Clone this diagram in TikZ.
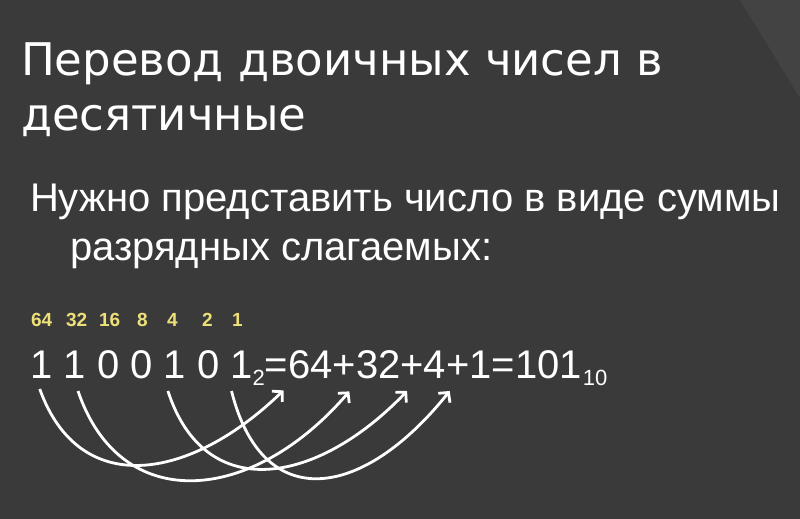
\documentclass[tikz,border=0pt]{standalone}
\usepackage{fontspec}
\setmainfont{Liberation Sans}
\newfontfamily\headfont{DejaVu Sans}
\usetikzlibrary{arrows.meta}
\definecolor{slidebg}{RGB}{58,58,58}
\definecolor{slideband}{RGB}{67,67,67}
\definecolor{weightyellow}{RGB}{238,224,120}
\begin{document}
\begin{tikzpicture}[x=1pt,y=-1pt,
  every node/.style={inner sep=0pt,outer sep=0pt,text=white},
  title/.style={anchor=base west,font=\headfont\fontsize{45}{55}\selectfont},
  body/.style={anchor=base west,font=\fontsize{40}{48}\selectfont},
  weight/.style={anchor=base west,text=weightyellow,font=\fontsize{19}{21}\selectfont\bfseries},
  digit/.style={anchor=base west,font=\fontsize{40}{48}\selectfont},
  subidx/.style={anchor=base west,font=\fontsize{22}{24}\selectfont},
  carry/.style={draw=white,line width=2.8pt,-{Straight Barb[length=7pt,width=15pt]}}]
\fill[slidebg] (0,0) rectangle (800,519) ;
\fill[slideband] (740,0) -- (800,0) -- (800,98) -- cycle ;
\useasboundingbox (0,0) rectangle (800,519) ;
\node[title] (head1) at (21,75) {Перевод двоичных чисел в} ;
\node[title] (head2) at (21,130) {десятичные} ;
\node[body] (line1) at (30,211) {Нужно представить число в виде суммы} ;
\node[body] (line2) at (70,260) {разрядных слагаемых:} ;
\foreach \w/\x in {64/31,32/66,16/99,8/137,4/167,2/202,1/232}
  \node[weight] (w\w) at (\x,326) {\w} ;
\foreach \b [count=\i] in {1,1,0,0,1,0,1}
  \node[digit] (d\i) at ({30.6+33.3*(\i-1)},378) {\b} ;
\node[subidx] (s2) at ([yshift=-7pt]d7.base east) {2} ;
\node[digit] (e1) at (s2.base east |- d7.base) {=} ;
\node[digit] (t64) at (e1.base east) {64} ;
\node[digit] (p1) at (t64.base east) {+} ;
\node[digit] (t32) at (p1.base east) {32} ;
\node[digit] (p2) at (t32.base east) {+} ;
\node[digit] (t4) at (p2.base east) {4} ;
\node[digit] (p3) at (t4.base east) {+} ;
\node[digit] (t1) at (p3.base east) {1} ;
\node[digit] (e2) at (t1.base east) {=} ;
\node[digit] (r101) at (e2.base east) {101} ;
\node[subidx] (s10) at ([xshift=1pt,yshift=-7pt]r101.base east) {10} ;
\draw[carry] ([xshift=-2pt,yshift=-11pt]d1.south) .. controls +(40,111) and +(-93,90) .. ([xshift=-27pt,yshift=-12pt]t64.south) ;
\draw[carry] ([xshift=3pt,yshift=-13pt]d2.south) .. controls +(42,124) and +(-98,114) .. ([xshift=-29pt,yshift=-13pt]t32.south) ;
\draw[carry] ([xshift=-7pt,yshift=-13pt]d5.south) .. controls +(37,114) and +(-90,94) .. ([xshift=-28pt,yshift=-13pt]t4.south) ;
\draw[carry] ([xshift=-10pt,yshift=-13pt]d7.south) .. controls +(31,124) and +(-87,109) .. ([xshift=-31pt,yshift=-13pt]t1.south) ;
\end{tikzpicture}
\end{document}
